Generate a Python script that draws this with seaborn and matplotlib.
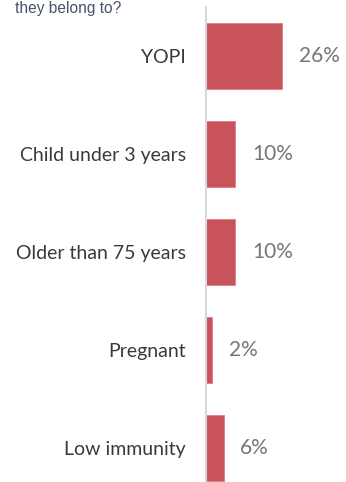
import matplotlib
matplotlib.use("Agg")
import matplotlib.pyplot as plt
import seaborn as sns
import pandas as pd

# Survey answers: share of respondents per risk group
categories = ["YOPI", "Child under 3 years", "Older than 75 years", "Pregnant", "Low immunity"]
shares = [26, 10, 10, 2, 6]
value_labels = [f"{v}%" for v in shares]

df = pd.DataFrame({"group": categories, "share": shares})

sns.set_theme(style="white")
plt.rcParams["font.family"] = ["Lato", "DejaVu Sans"]

W, H = 346, 482
fig = plt.figure(figsize=(W / 100, H / 100), dpi=100)
# axes: spine at x=206 px, top at y=7 px, reaching the bottom edge
ax = fig.add_axes([206 / W, 0, 1 - 206 / W, 1 - 7 / H])

sns.barplot(data=df, x="share", y="group", orient="h", color="#C9535B",
            width=0.67, ax=ax, edgecolor="#D9767D", linewidth=0.5, saturation=1)

ax.set_xlim(0, 47.9)
ax.set_ylim(4.35, -0.5)

ax.bar_label(ax.containers[0], labels=value_labels, padding=12,
             fontsize=15, color="#767676")

ax.set_xlabel("")
ax.set_ylabel("")
ax.set_xticks([])
ax.tick_params(axis="y", length=0, pad=14.5, labelsize=14, labelcolor="#3A3A3A")

for side in ["top", "right", "bottom"]:
    ax.spines[side].set_visible(False)
ax.spines["left"].set_color("#D9D9D9")
ax.spines["left"].set_linewidth(1.5)

fig.text(15 / W, 1 - 12.5 / H, "they belong to?", ha="left", va="baseline",
         fontsize=11.2, color="#44546A", family=["Liberation Sans", "DejaVu Sans"])

fig.savefig("out.png", dpi=100)
